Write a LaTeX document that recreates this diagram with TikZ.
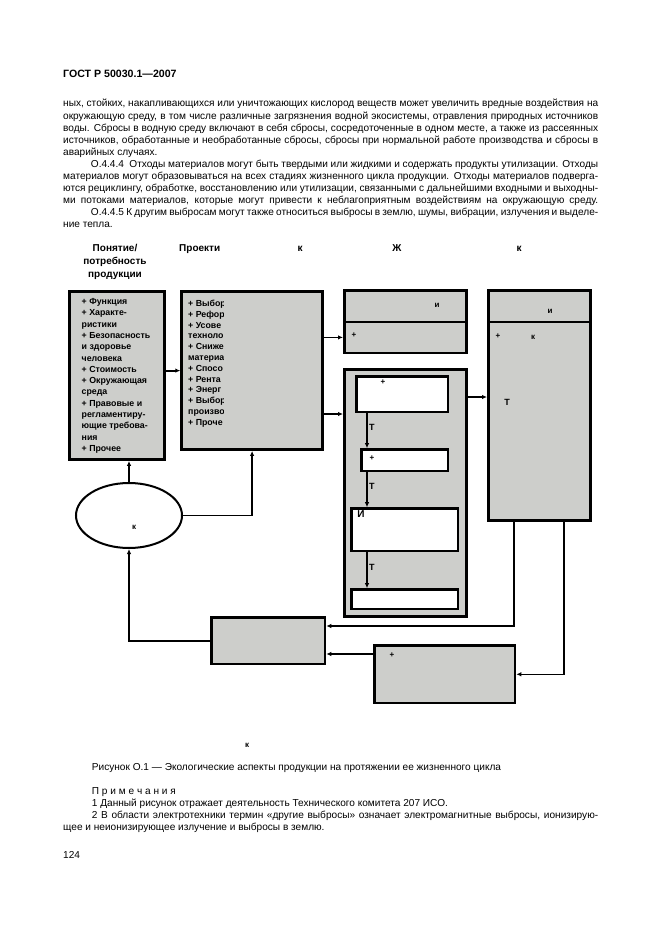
\documentclass[tikz,border=0pt]{standalone}
\usepackage{fontspec}
\setmainfont{Liberation Sans}
\usetikzlibrary{shapes.geometric,arrows.meta}

\definecolor{boxgray}{RGB}{205,206,203}
% строка, растянутая на всю ширину полосы набора
\newcommand{\justline}[2][535pt]{\makebox[#1][s]{#2}}

\begin{document}
\begin{tikzpicture}[x=1pt,y=-1pt,>={Latex[length=5pt,width=4.5pt]},
    body/.style={inner sep=0pt,anchor=base west,font=\fontsize{10.1}{12}\selectfont},
    head/.style={inner sep=0pt,font=\fontsize{10}{13}\selectfont\bfseries},
    item/.style={inner sep=0pt,anchor=base west,font=\fontsize{8.8}{11}\selectfont\bfseries},
    tag/.style={inner sep=0pt,font=\fontsize{8}{10}\selectfont\bfseries},
    blk/.style={draw,line width=2.6pt,fill=boxgray,inner sep=0pt,anchor=north west},
    wblk/.style={draw,line width=2.3pt,fill=white,inner sep=0pt,anchor=north west},
    link/.style={line width=1.8pt},
    thinlink/.style={line width=1.3pt}]
    \useasboundingbox (0,0) rectangle (661,936);

    % Колонтитул и текст над рисунком.
    \node[body,font=\fontsize{10.6}{12}\selectfont\bfseries] (gost) at (63,77.5) {ГОСТ Р 50030.1—2007};
    \node[body] (p1) at (63,107) {\justline{ных, стойких, накапливающихся или уничтожающих кислород веществ может увеличить вредные воздействия на}};
    \node[body] (p2) at (63,119.1) {\justline{окружающую среду, в том числе различные загрязнения водной экосистемы, отравления природных источников}};
    \node[body] (p3) at (63,131.2) {\justline{воды. Сбросы в водную среду включают в себя сбросы, сосредоточенные в одном месте, а также из рассеянных}};
    \node[body] (p4) at (63,143.2) {\justline{источников, обработанные и необработанные сбросы, сбросы при нормальной работе производства и сбросы в}};
    \node[body] (p5) at (63,155.3) {аварийных случаях.};
    \node[body] (p6) at (63,167.4) {\justline{\hspace*{27.7pt}О.4.4.4\ \ Отходы материалов могут быть твердыми или жидкими и содержать продукты утилизации. Отходы}};
    \node[body] (p7) at (63,179.5) {\justline{материалов могут образовываться на всех стадиях жизненного цикла продукции. Отходы материалов подверга-}};
    \node[body] (p8) at (63,191.5) {\justline{ются рециклингу, обработке, восстановлению или утилизации, связанными с дальнейшими входными и выходны-}};
    \node[body] (p9) at (63,203.6) {\justline{ми потоками материалов, которые могут привести к неблагоприятным воздействиям на окружающую среду.}};
    \node[body] (p10) at (63,215.7) {\justline{\hspace*{27.7pt}О.4.4.5 К другим выбросам могут также относиться выбросы в землю, шумы, вибрации, излучения и выделе-}};
    \node[body] (p11) at (63,227.8) {ние тепла.};

    % Заголовки столбцов.
    \node[head,align=center] (hconcept) at (115,262) {Понятие/\\потребность\\продукции};
    \node[head,anchor=base west] (hdesign) at (179,251.5) {Проекти};
    \node[head,anchor=base] (hk1) at (300,251.5) {к};
    \node[head,anchor=base] (hzh) at (397,251.5) {Ж};
    \node[head,anchor=base] (hk2) at (519,251.5) {к};

    % Блоки.
    \node[blk,minimum width=95,minimum height=168] (concept) at (68.3,290.3) {};
    \node[blk,minimum width=141,minimum height=158] (design) at (180.3,290.3) {};
    \node[blk,minimum width=122.4,minimum height=31.3] (ctop) at (343,289.3) {};
    \node[blk,minimum width=122.4,minimum height=31] (cbot) at (343,320.6) {};
    \node[blk,minimum width=122.4,minimum height=247] (cont) at (343,368.3) {};
    \node[wblk,minimum width=91.6,minimum height=35.6] (w1) at (355.2,375.2) {};
    \node[wblk,minimum width=86.6,minimum height=21.6] (w2) at (360.2,448.2) {};
    \node[wblk,minimum width=106.6,minimum height=42.6] (w3) at (350.2,507.2) {};
    \node[wblk,minimum width=106.6,minimum height=19.6] (w4) at (350.2,588.2) {};
    \node[blk,minimum width=102.4,minimum height=31.3] (etop) at (487,289.3) {};
    \node[blk,minimum width=102.4,minimum height=198.6] (ebot) at (487,320.6) {};
    \node[blk,minimum width=113.4,minimum height=46.4] (boxf) at (210.3,616.3) {};
    \node[blk,minimum width=140.4,minimum height=57.4] (boxg) at (373.3,644.3) {};
    \node[draw,ellipse,line width=2pt,minimum width=106,minimum height=65,inner sep=0pt] (market) at (129,515.5) {};

    % Тексты в блоках.
    \foreach \t [count=\i from 0] in {+ Функция,+ Характе-,ристики,+ Безопасность,и здоровье,человека,+ Стоимость,+ Окружающая,среда,+ Правовые и,регламентиру-,ющие требова-,ния,+ Прочее}
        \node[item] (ci\i) at (81.5,304.5+11.3*\i) {\t};
    \begin{scope}
        \clip (182,292) rectangle (223.5,448);
        \foreach \t [count=\i from 0] in {+ Выбор,+ Рефор,+ Усове,техноло,+ Сниже,материа,+ Спосо,+ Рента,+ Энерг,+ Выбор,произво,+ Проче}
            \node[item] (di\i) at (188,306.5+10.8*\i) {\t};
    \end{scope}
    \node[tag] (ctopi) at (437,305) {и};
    \node[tag] (cbotp) at (354,335) {+};
    \node[tag] (w1p) at (383,382) {+};
    \node[tag] (w2p) at (372,458) {+};
    \node[tag,font=\fontsize{10}{12}\selectfont\bfseries] (w3i) at (361,514) {И};
    \node[tag] (etopi) at (550,311) {и};
    \node[tag] (ebotp) at (498,336) {+};
    \node[tag] (ebotk) at (533,337) {к};
    \node[tag,font=\fontsize{9}{12}\selectfont\bfseries] (ebott) at (507,402) {Т};
    \node[tag] (boxgp) at (392,655) {+};
    \node[tag] (marketk) at (134,527) {к};

    % Вспомогательные точки.
    \coordinate (rowbd) at (0,414);
    \coordinate (rowde) at (0,397);
    \coordinate (rowef) at (0,626);
    \coordinate (rowgf) at (0,654);
    \coordinate (colt) at (367,0);
    \coordinate (cole1) at (514,0);
    \coordinate (cole2) at (564,0);

    % Связи.
    \draw[link,->] (concept.east |- design.west) -- (design.west);
    \draw[link,->] (design.east |- cbot.west) -- (cbot.west);
    \draw[link,->] (design.east |- rowbd) -- (cont.west |- rowbd);
    \draw[link,->] (cont.east |- rowde) -- (ebot.west |- rowde);
    \draw[thinlink,->] (w1.south -| colt) -- (w2.north -| colt)
        node[pos=0.42,right=1.5pt,tag,font=\fontsize{9}{12}\selectfont\bfseries] (t1) {Т};
    \draw[thinlink,->] (w2.south -| colt) -- (w3.north -| colt)
        node[pos=0.42,right=1.5pt,tag,font=\fontsize{9}{12}\selectfont\bfseries] (t2) {Т};
    \draw[thinlink,->] (w3.south -| colt) -- (w4.north -| colt)
        node[pos=0.42,right=1.5pt,tag,font=\fontsize{9}{12}\selectfont\bfseries] (t3) {Т};
    \draw[link,->] (market.north) -- (market.north |- concept.south);
    \draw[link,->] (market.east) -| (design.south);
    \draw[link,->] (boxf.west) -| (market.south);
    \draw[thinlink,->] (ebot.south -| cole1) |- (boxf.east |- rowef);
    \draw[link,->] (boxg.west |- rowgf) -- (boxf.east |- rowgf);
    \draw[thinlink,->] (ebot.south -| cole2) |- (boxg.east);

    % Подпись и примечания.
    \node[tag,font=\fontsize{8}{10}\selectfont\bfseries] (lowk) at (247,745) {к};
    \node[body] (caption) at (91.7,770.5) {Рисунок О.1 — Экологические аспекты продукции на протяжении ее жизненного цикла};
    \node[body] (notes) at (91.7,794.5) {П р и м е ч а н и я};
    \node[body] (note1) at (91.7,806) {1 Данный рисунок отражает деятельность Технического комитета 207 ИСО.};
    \node[body] (note2) at (91.7,818.5) {\justline[506.3pt]{2 В области электротехники термин «другие выбросы» означает электромагнитные выбросы, ионизирую-}};
    \node[body] (note2b) at (63,830.5) {щее и неионизирующее излучение и выбросы в землю.};
    \node[body] (pagenum) at (63,858.5) {124};
\end{tikzpicture}
\end{document}
